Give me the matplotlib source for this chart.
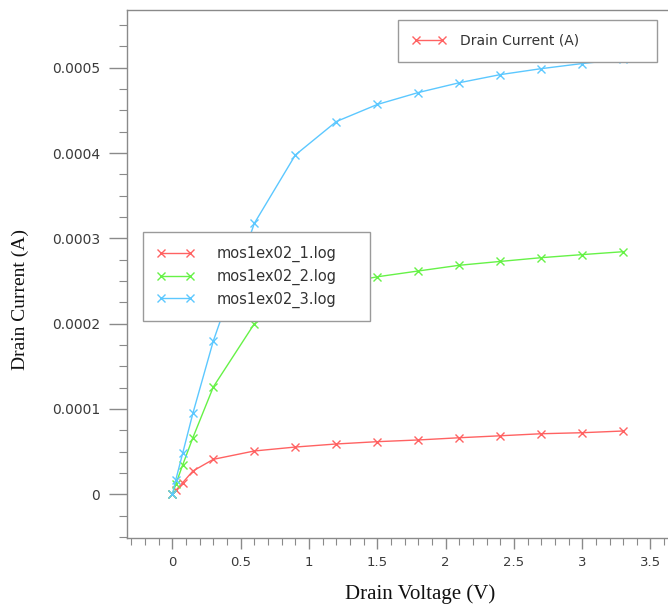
import matplotlib
matplotlib.use("Agg")
import matplotlib.pyplot as plt
from matplotlib.lines import Line2D
from matplotlib.ticker import MultipleLocator, FuncFormatter

# ---- data ----
vdrain = [0.0, 0.025, 0.075, 0.15, 0.3, 0.6, 0.9, 1.2, 1.5, 1.8, 2.1, 2.4, 2.7, 3.0, 3.3]
id_1 = [0.0, 0.045e-4, 0.136e-4, 0.273e-4, 0.410e-4, 0.508e-4, 0.554e-4, 0.590e-4, 0.617e-4,
        0.637e-4, 0.663e-4, 0.686e-4, 0.710e-4, 0.722e-4, 0.742e-4]
id_2 = [0.0, 0.12e-4, 0.343e-4, 0.664e-4, 1.26e-4, 2.00e-4, 2.30e-4, 2.46e-4, 2.55e-4,
        2.618e-4, 2.685e-4, 2.73e-4, 2.774e-4, 2.81e-4, 2.844e-4]
id_3 = [0.0, 0.17e-4, 0.48e-4, 0.95e-4, 1.80e-4, 3.177e-4, 3.978e-4, 4.37e-4, 4.57e-4,
        4.71e-4, 4.825e-4, 4.92e-4, 4.99e-4, 5.05e-4, 5.10e-4]
series_labels = ["mos1ex02_1.log", "mos1ex02_2.log", "mos1ex02_3.log"]
quantity_label = "Drain Current (A)"
x_label = "Drain Voltage (V)"
y_label = "Drain Current (A)"

colors = ["#ff6262", "#66f247", "#5cc8ff"]

W, H = 668, 607
fig = plt.figure(figsize=(W / 100, H / 100), dpi=100)
fig.patch.set_facecolor("white")

# axes box in pixels
left_px, right_px, top_px, bottom_px = 126.7, 668, 10, 538
ax = fig.add_axes([left_px / W, 1 - bottom_px / H, (right_px - left_px) / W, (bottom_px - top_px) / H])

for ys, c, lab in zip([id_1, id_2, id_3], colors, series_labels):
    ax.plot(vdrain, ys, color=c, lw=1.0, marker="x", ms=5.5, mew=1.0, label=lab, zorder=3)

# x = 0 at px 172.4, 136.6 px per volt
xmin = (left_px - 172.4) / 136.6
xmax = (right_px - 172.4) / 136.6
ax.set_xlim(xmin, xmax)
# y = 0 at px 494.3, 85.3 px per 1e-4
ymin = -(bottom_px - 494.3) / 85.3 * 1e-4
ymax = (494.3 - top_px) / 85.3 * 1e-4
ax.set_ylim(ymin, ymax)

ax.xaxis.set_major_locator(MultipleLocator(0.5))
ax.xaxis.set_minor_locator(MultipleLocator(0.1))
ax.yaxis.set_major_locator(MultipleLocator(0.0001))
ax.yaxis.set_minor_locator(MultipleLocator(0.000025))

def yfmt(v, pos):
    if abs(v) < 1e-12:
        return "0"
    return "%.4f" % v

def xfmt(v, pos):
    if abs(v) < 1e-9:
        return "0"
    return ("%g" % round(v, 3))

ax.yaxis.set_major_formatter(FuncFormatter(yfmt))
ax.xaxis.set_major_formatter(FuncFormatter(xfmt))

gray = "#8a8a8a"
for s in ["left", "bottom", "top"]:
    ax.spines[s].set_color(gray)
    ax.spines[s].set_linewidth(1.0)
ax.spines["right"].set_visible(False)

ax.tick_params(axis="y", which="major", length=13, width=1.0, color=gray, direction="out",
               labelsize=10, labelcolor="#3a3a3a", pad=6)
ax.tick_params(axis="y", which="minor", length=6, width=0.8, color=gray, direction="out")
ax.tick_params(axis="x", which="major", length=8, width=1.0, color=gray, direction="out",
               labelsize=9.5, labelcolor="#3a3a3a", pad=5)
ax.tick_params(axis="x", which="minor", length=5, width=0.8, color=gray, direction="out")
for lbl in ax.get_xticklabels() + ax.get_yticklabels():
    lbl.set_family("DejaVu Sans")

ax.set_xlabel(x_label, family="Liberation Serif", fontsize=15, color="#111111")
ax.set_ylabel(y_label, family="Liberation Serif", fontsize=14, color="#111111")
ax.xaxis.set_label_coords((420 - left_px) / (right_px - left_px), -(584 - bottom_px) / (bottom_px - top_px))
ax.yaxis.set_label_coords(-(left_px - 29) / (right_px - left_px), (bottom_px - 300) / (bottom_px - top_px))

# series legend
leg2 = ax.legend(loc="upper left",
                 bbox_to_anchor=(143 / W, 1 - 315 / H, (370 - 143) / W, (315 - 232) / H),
                 bbox_transform=fig.transFigure, mode="expand", borderaxespad=0,
                 numpoints=2, handlelength=2.6, handletextpad=1.5, labelspacing=0.45,
                 borderpad=0.95, fancybox=False, framealpha=1, edgecolor="#9a9a9a",
                 prop={"family": "DejaVu Sans", "size": 10.5})
leg2.get_frame().set_linewidth(1.0)
for t in leg2.get_texts():
    t.set_color("#333333")
ax.add_artist(leg2)

# quantity legend
proxy = Line2D([], [], color=colors[0], lw=1.0, marker="x", ms=5.5, mew=1.0)
leg1 = ax.legend([proxy], [quantity_label], loc="upper left",
                 bbox_to_anchor=(398 / W, 1 - 63 / H, (657 - 398) / W, (63 - 20) / H),
                 bbox_transform=fig.transFigure, mode="expand", borderaxespad=0,
                 numpoints=2, handlelength=2.5, handletextpad=1.0,
                 borderpad=1.0, fancybox=False, framealpha=1, edgecolor="#9a9a9a",
                 prop={"family": "DejaVu Sans", "size": 10})
leg1.get_frame().set_linewidth(1.0)
for t in leg1.get_texts():
    t.set_color("#333333")
leg1.set_zorder(5)
leg2.set_zorder(5)

fig.savefig("out.png", dpi=100, facecolor="white")
